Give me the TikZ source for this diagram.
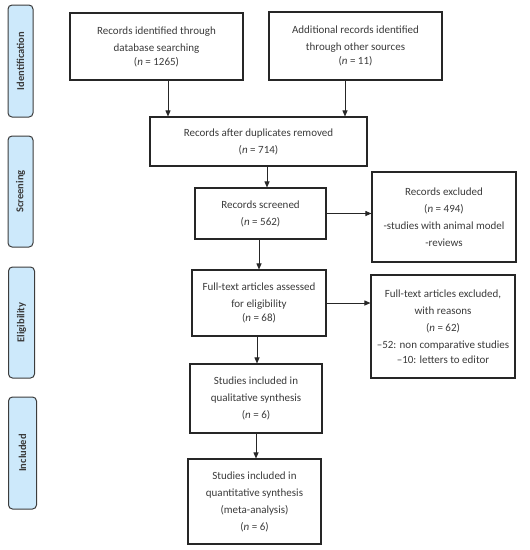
\documentclass[tikz,border=0pt]{standalone}
\usepackage{fontspec}
\setmainfont{Carlito}
\usetikzlibrary{arrows.meta,calc}
\definecolor{txt}{HTML}{3A3A3A}
\definecolor{lblfill}{HTML}{CDE9FB}
\definecolor{lbldraw}{HTML}{3C3C3C}
\tikzset{
  box/.style={draw=black!85, line width=1.1pt, align=center, text=txt,
    font=\fontsize{11}{17}\selectfont, inner sep=2pt},
  lbl/.style={draw=lbldraw, line width=1pt, fill=lblfill, rounded corners=4pt,
    rotate=90, font=\fontsize{10.5}{12}\selectfont\bfseries, text=txt,
    inner sep=0pt},
  arr/.style={draw=black!85, line width=0.9pt, -{Triangle[length=6pt,width=5pt]}},
}
\begin{document}
\begin{tikzpicture}[x=1pt,y=-1pt]
\useasboundingbox (0,0) rectangle (530,550);
% phase labels
\node[lbl, minimum width=112pt, minimum height=25pt] (l1) at (20.5,61) {Identification};
\node[lbl, minimum width=111pt, minimum height=25pt] (l2) at (20.5,191.5) {Screening};
\node[lbl, minimum width=111pt, minimum height=26pt] (l3) at (21.5,322.5) {Eligibility};
\node[lbl, minimum width=112pt, minimum height=28pt] (l4) at (22.5,453) {Included};
% boxes
\node[box, minimum width=173pt, minimum height=67pt] (b1) at (156.5,46.5)
  {Records identified through\\database searching\\[-3pt](\textit{n} = 1265)};
\node[box, minimum width=173pt, minimum height=68pt] (b2) at (355.5,46)
  {Additional records identified\\through other sources\\[-3pt](\textit{n} = 11)};
\node[box, minimum width=217pt, minimum height=49pt] (b3) at (258.5,141.5)
  {Records after duplicates removed\\(\textit{n} = 714)};
\node[box, minimum width=131pt, minimum height=51pt] (b4) at (260.5,213.5)
  {Records screened\\(\textit{n} = 562)};
\node[box, minimum width=144pt, minimum height=90pt] (b5) at (444,217)
  {Records excluded\\(\textit{n} = 494)\\-studies with animal model\\-reviews};
\node[box, minimum width=134pt, minimum height=66pt] (b6) at (259,303)
  {Full-text articles assessed\\for eligibility\\[-3pt](\textit{n} = 68)};
\node[box, minimum width=144pt, minimum height=103pt] (b7) at (443,326.5)
  {Full-text articles excluded,\\with reasons\\(\textit{n} = 62)\\–52: non comparative studies\\[-2pt]–10: letters to editor};
\node[box, minimum width=132pt, minimum height=69pt] (b8) at (256,398.5)
  {Studies included in\\qualitative synthesis\\(\textit{n} = 6)};
\node[box, minimum width=133pt, minimum height=85pt] (b9) at (254.5,501.5)
  {Studies included in\\quantitative synthesis\\(meta-analysis)\\(\textit{n} = 6)};
% arrow columns
\coordinate (c1) at (168,0);
\coordinate (c2) at (345,0);
\coordinate (c3) at (267,0);
\coordinate (c4) at (259,0);
\coordinate (c5) at (257,0);
\coordinate (c6) at (256,0);
% arrows
\draw[arr] (b1.south -| c1) -- (b3.north -| c1);
\draw[arr] (b2.south -| c2) -- (b3.north -| c2);
\draw[arr] (b3.south -| c3) -- (b4.north -| c3);
\draw[arr] (b4.east) -- (b4.east -| b5.west);
\draw[arr] (b4.south -| c4) -- (b6.north -| c4);
\draw[arr] (b6.east) -- (b6.east -| b7.west);
\draw[arr] (b6.south -| c5) -- (b8.north -| c5);
\draw[arr] (b8.south -| c6) -- (b9.north -| c6);
\end{tikzpicture}
\end{document}
